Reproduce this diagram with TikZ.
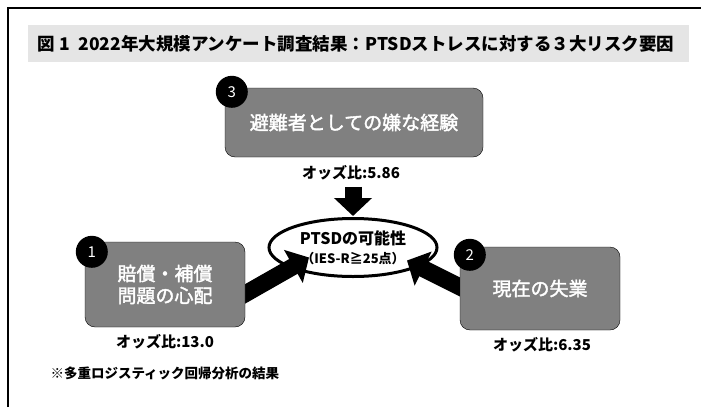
\documentclass[tikz,border=0pt]{standalone}
\usepackage{fontspec}
\setmainfont{Noto Sans CJK JP}
\newfontfamily\boxfont{Noto Sans CJK JP}[FakeBold=2]
\usetikzlibrary{arrows.meta,shapes.geometric,calc}

\begin{document}
\begin{tikzpicture}[x=1pt,y=-1pt,
    factor/.style={draw=black,fill=gray,rounded corners=10pt,text=white,align=center,inner sep=0pt,font=\boxfont\fontsize{19}{22}\selectfont},
    badge/.style={circle,fill=black,text=white,minimum size=32pt,inner sep=0pt,font=\fontsize{15}{15}\selectfont},
    odds/.style={font=\bfseries\fontsize{15}{17}\selectfont},
    bigarrow/.style={line width=17pt,-{Triangle[length=18pt,width=37pt]}}]
      \useasboundingbox (0,0) rectangle (701,407);
      \draw[line width=2pt] (8,407) -- (8,8) -- (701,8);
      \fill[gray!20] (28,25) rectangle (689,62);
      \node[anchor=west,font=\bfseries\fontsize{17.5}{20}\selectfont] (title) at (34,44) {図 1\enspace 2022年大規模アンケート調査結果：PTSDストレスに対する３大リスク要因};
      % outcome
      \node[ellipse,draw,line width=3pt,fill=white,minimum width=168pt,minimum height=58pt,inner sep=0pt,align=center,font=\bfseries\fontsize{16}{20}\selectfont] (ptsd) at (353,247.5)
        {PTSDの可能性\\[-1pt]{\fontsize{13}{14}\selectfont （IES-R≧25点）}};
      \node[odds] (o3) at (351,173) {オッズ比:5.86};
      \node[odds] (o1) at (165,342) {オッズ比:13.0};
      \node[odds] (o2) at (542,345) {オッズ比:6.35};
      % arrows
      \draw[bigarrow] ([yshift=-3pt]o3.south -| ptsd.north) -- ($(ptsd.north)+(0,-1)$);
      \draw[bigarrow] ($(ptsd.center)+(-123,55)$) -- ($(ptsd.center)+(-44,10)$);
      \draw[bigarrow] ($(ptsd.center)+(122,47)$) -- ($(ptsd.center)+(54,13)$);
      % factors
      \node[factor,minimum width=258pt,minimum height=69pt] (f3) at (354,122.5) {避難者としての嫌な経験};
      \node[factor,minimum width=160pt,minimum height=85pt] (f1) at (165,284.5) {賠償・補償\\問題の心配};
      \node[factor,minimum width=160pt,minimum height=83pt] (f2) at (540,288.5) {現在の失業};
      \node[badge] (n3) at ($(f3.north west)+(7,4)$) {3};
      \node[badge] (n1) at ($(f1.north west)+(7,10)$) {1};
      \node[badge] (n2) at ($(f2.north west)+(10,8)$) {2};
      \node[anchor=west,font=\bfseries\fontsize{13.5}{16}\selectfont] (note) at (47,373) {※多重ロジスティック回帰分析の結果};
\end{tikzpicture}
\end{document}
